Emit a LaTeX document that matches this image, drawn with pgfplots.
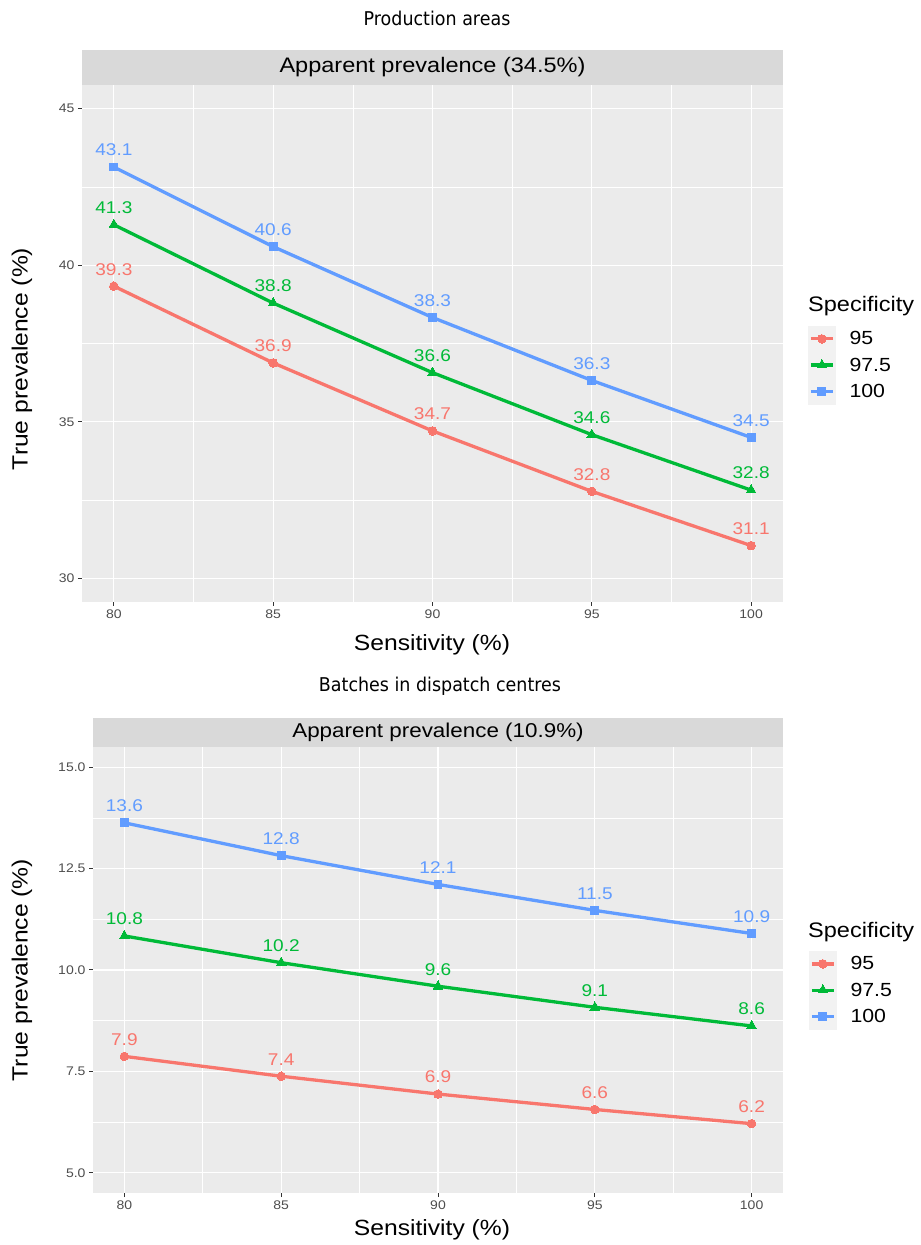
\documentclass[border=0pt]{standalone}
\usepackage{pgfplots}
\pgfplotsset{compat=1.18}
\usepackage{pgfplotstable}
\usepackage{fontspec}
\setmainfont[FakeStretch=1.12]{Liberation Sans}
\newfontfamily\titlefont[FakeStretch=0.92]{DejaVu Sans}
\definecolor{cR}{HTML}{F8766D}
\definecolor{cG}{HTML}{00BA38}
\definecolor{cB}{HTML}{619CFF}
\definecolor{ggbg}{HTML}{EBEBEB}
\definecolor{ggstrip}{HTML}{D9D9D9}
\definecolor{ggkey}{HTML}{F2F2F2}
\definecolor{ggtick}{HTML}{4D4D4D}
\definecolor{ggtickline}{HTML}{333333}
\newcommand{\fs}[1]{\fontsize{#1}{#1}\selectfont}

% Production areas (apparent prevalence 34.5%)
\pgfplotstableread{
x y label
80 39.33 39.3
85 36.88 36.9
90 34.71 34.7
95 32.78 32.8
100 31.05 31.1
}\topA
\pgfplotstableread{
x y label
80 41.29 41.3
85 38.79 38.8
90 36.57 36.6
95 34.59 34.6
100 32.82 32.8
}\topB
\pgfplotstableread{
x y label
80 43.13 43.1
85 40.59 40.6
90 38.33 38.3
95 36.32 36.3
100 34.50 34.5
}\topC
% Batches in dispatch centres (apparent prevalence 10.9%)
\pgfplotstableread{
x y label
80 7.87 7.9
85 7.38 7.4
90 6.94 6.9
95 6.56 6.6
100 6.21 6.2
}\botA
\pgfplotstableread{
x y label
80 10.84 10.8
85 10.18 10.2
90 9.60 9.6
95 9.08 9.1
100 8.62 8.6
}\botB
\pgfplotstableread{
x y label
80 13.63 13.6
85 12.82 12.8
90 12.11 12.1
95 11.47 11.5
100 10.90 10.9
}\botC

\pgfplotsset{ggstyle/.style={
  scale only axis, clip=false,
  xmin=79, xmax=101, xtick={80,85,90,95,100},
  minor xtick={82.5,87.5,92.5,97.5},
  grid=both,
  major grid style={white, line width=1.1pt},
  minor grid style={white, line width=0.55pt},
  axis background/.style={fill=ggbg},
  axis line style={draw=none},
  tick pos=left, tick align=outside,
  major tick length=4pt, minor tick length=0pt,
  tick style={ggtickline, line width=1pt},
  ticklabel style={font=\fs{12.5}, text=ggtick},
  /pgf/number format/assume math mode=true,
  legend cell align=left,
  legend image code/.code={\fill[ggkey] (0pt,-11.5pt) rectangle (24pt,11.5pt);
     \draw[mark repeat=2, mark phase=2] plot coordinates {(1pt,0pt)(12pt,0pt)(23pt,0pt)};},
  legend style={draw=none, fill=none, anchor=north west, font=\fs{19},
     row sep=0pt, column sep=14pt, inner sep=0pt, nodes={inner sep=0pt, anchor=west}},
  nodes near coords, point meta=explicit symbolic,
  every node near coord/.append style={font=\fs{17}, anchor=center, yshift=17pt},
}, 
sR/.style={color=cR, line width=3.3pt, mark=*, mark size=4.3pt, mark options={solid, line width=0pt}},
sG/.style={color=cG, line width=3.3pt, mark=triangle*, mark size=5.6pt, mark options={solid, line width=0pt}},
sB/.style={color=cB, line width=3.3pt, mark=square*, mark size=3.9pt, mark options={solid, line width=0pt}},
}

\begin{document}
\begin{tikzpicture}
\useasboundingbox (0,0) rectangle (921pt,1245pt);

% ---------- Top panel ----------
\node[font=\titlefont\fs{19}] at (437pt,1227pt) {Production areas};
\begin{axis}[ggstyle, at={(82pt,643pt)}, anchor=south west,
  width=701pt, height=517pt,
  ymin=29.25, ymax=45.75, ytick={30,35,40,45}, minor ytick={32.5,37.5,42.5},
  legend style={at={(axis description cs:1.0357,0.5348)}}]
\addplot[sR] table[x=x, y=y, meta=label] {\topA};
\addlegendentry{95}
\addplot[sG] table[x=x, y=y, meta=label] {\topB};
\addlegendentry{97.5}
\addplot[sB] table[x=x, y=y, meta=label] {\topC};
\addlegendentry{100}
\fill[ggstrip] (rel axis cs:0,1) rectangle ([yshift=35pt]rel axis cs:1,1);
\node[font=\fs{21}] at ([yshift=17.5pt]rel axis cs:0.5,1) {Apparent prevalence (34.5\%)};
\end{axis}
\node[font=\fs{22}] at (432pt,600pt) {Sensitivity (\%)};
\node[font=\fs{22}, rotate=90] at (22pt,886pt) {True prevalence (\%)};
\node[font=\fs{21}, anchor=base west, inner sep=0pt] at (808pt,933pt) {Specificity};

% ---------- Bottom panel ----------
\node[font=\titlefont\fs{19}] at (440pt,559pt) {Batches in dispatch centres};
\begin{axis}[ggstyle, at={(93pt,52pt)}, anchor=south west,
  width=690pt, height=446pt,
  ymin=4.5, ymax=15.5, ytick={5,7.5,10,12.5,15}, minor ytick={6.25,8.75,11.25,13.75},
  yticklabel style={/pgf/number format/.cd, fixed, fixed zerofill, precision=1},
  legend style={at={(axis description cs:1.0377,0.5437)}}]
\addplot[sR] table[x=x, y=y, meta=label] {\botA};
\addlegendentry{95}
\addplot[sG] table[x=x, y=y, meta=label] {\botB};
\addlegendentry{97.5}
\addplot[sB] table[x=x, y=y, meta=label] {\botC};
\addlegendentry{100}
\fill[ggstrip] (rel axis cs:0,1) rectangle ([yshift=29pt]rel axis cs:1,1);
\node[font=\fs{20}] at ([yshift=14.5pt]rel axis cs:0.5,1) {Apparent prevalence (10.9\%)};
\end{axis}
\node[font=\fs{22}] at (432pt,15pt) {Sensitivity (\%)};
\node[font=\fs{22}, rotate=90] at (22pt,275pt) {True prevalence (\%)};
\node[font=\fs{21}, anchor=base west, inner sep=0pt] at (808pt,307pt) {Specificity};
\end{tikzpicture}
\end{document}
